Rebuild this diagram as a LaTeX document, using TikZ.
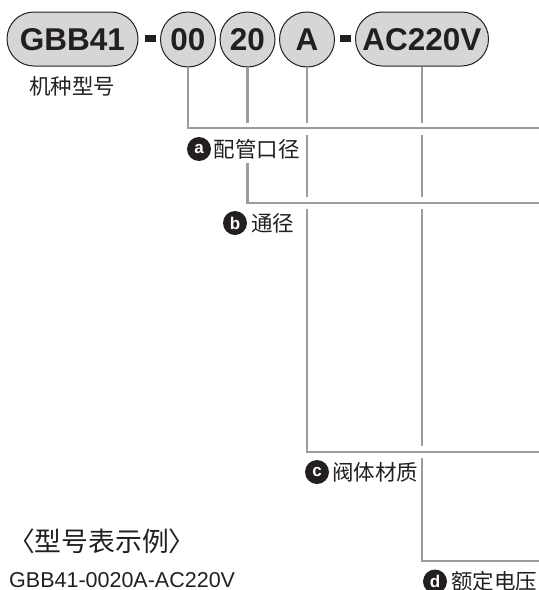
\documentclass[tikz,border=0pt]{standalone}
\usepackage{fontspec}
\setmainfont{Liberation Sans}
\newfontfamily\cjk{Noto Sans CJK SC}
\definecolor{pillfill}{HTML}{D6D6D6}
\definecolor{ink}{HTML}{231F20}
\definecolor{wirec}{HTML}{9C9C9E}
\begin{document}
\begin{tikzpicture}[x=1pt,y=-1pt,
  pill/.style={draw=ink, line width=1pt, fill=pillfill, minimum height=54pt, rounded corners=26.9pt, inner sep=0pt, text=ink, font=\fontsize{31.5}{31.5}\selectfont\bfseries, text depth=0pt},
  disc/.style={circle, draw=ink, line width=1pt, fill=pillfill, minimum size=55pt, inner sep=0pt, text=ink, font=\fontsize{31.5}{31.5}\selectfont\bfseries, text depth=0pt},
  dashbar/.style={fill=ink, minimum width=11pt, minimum height=6.5pt, inner sep=0pt},
  wire/.style={draw=wirec, line width=2.2pt},
  badge/.style={circle, fill=ink, minimum size=24pt, inner sep=0pt, text=white, font=\fontsize{17}{17}\selectfont\bfseries},
  lbl/.style={anchor=base west, inner sep=0pt, text=ink, font=\cjk\fontsize{21.5}{21.5}\selectfont}
]
\useasboundingbox (0,0) rectangle (539,590);
% top row
\node[pill, minimum width=131pt] (gbb) at (72.5,39) {GBB41};
\node[dashbar] (d1) at (150,38.5) {};
\node[disc] (s00) at (188,39.5) {00};
\node[disc] (s20) at (247.5,39.5) {20};
\node[disc] (sA) at (307,39.5) {A};
\node[dashbar] (d2) at (345,38.5) {};
\node[pill, minimum width=133pt] (volt) at (422,39) {AC220V};
\node[lbl] (lm) at (29,94) {机种型号};
% levels
\coordinate (ya1) at (0,122.5);
\coordinate (ya2) at (0,134.5);
\coordinate (yb0) at (0,163);
\coordinate (yb1) at (0,197);
\coordinate (yb2) at (0,209);
\coordinate (yc1) at (0,446);
\coordinate (yc2) at (0,458);
\coordinate (aE) at (539,128);
\coordinate (bE) at (539,203);
\coordinate (cE) at (539,452);
\coordinate (dE) at (539,561);
% a
\draw[wire] (s00.south) |- (aE);
% b
\draw[wire] (s20.south) -- (s20.south |- ya1);
\draw[wire] (s20.south |- yb0) |- (bE);
% c
\draw[wire] (sA.south) -- (sA.south |- ya1);
\draw[wire] (sA.south |- ya2) -- (sA.south |- yb1);
\draw[wire] (sA.south |- yb2) |- (cE);
% d
\draw[wire] (volt.south) -- (volt.south |- ya1);
\draw[wire] (volt.south |- ya2) -- (volt.south |- yb1);
\draw[wire] (volt.south |- yb2) -- (volt.south |- yc1);
\draw[wire] (volt.south |- yc2) |- (dE);
% labels
\node[badge] (ba) at (199,149) {a};
\node[lbl] (la) at (213.5,157) {配管口径};
\node[badge] (bb) at (235,223) {b};
\node[lbl] (lb) at (251,231) {通径};
\node[badge] (bc) at (317,472) {c};
\node[lbl] (lc) at (332,480) {阀体材质};
\node[badge] (bd) at (435,581.5) {d};
\node[lbl] (ld) at (451,589.5) {额定电压};
% example
\node[anchor=base west, inner sep=0pt, text=ink, font=\cjk\fontsize{26.8}{26.8}\selectfont] (ex) at (8,551.4) {〈型号表示例〉};
\node[anchor=base west, inner sep=0pt, text=ink, font=\fontsize{21.5}{21.5}\selectfont] (code) at (9,587.5) {GBB41-0020A-AC220V};
\end{tikzpicture}
\end{document}
